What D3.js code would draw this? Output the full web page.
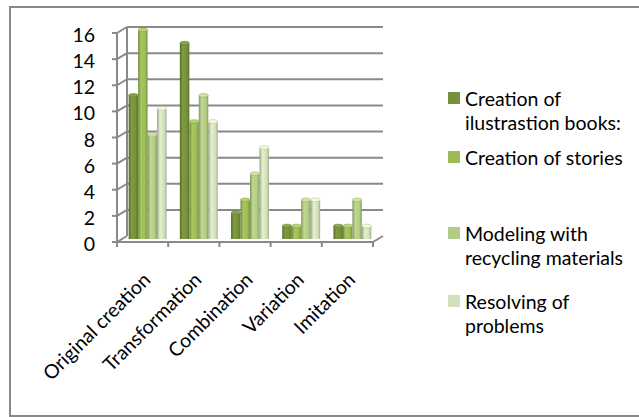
<!DOCTYPE html>
<html>
<head>
<meta charset="utf-8">
<script src="https://cdn.jsdelivr.net/npm/d3@7"></script>
<style>
    body{margin:0;background:#fff;}
    text{font-family:Lato, "Liberation Sans", sans-serif;fill:#000;}
</style>
</head>
<body>
<div id="chart"></div>
<script>
const categories = ["Original creation","Transformation","Combination","Variation","Imitation"];
const seriesNames = ["Creation of ilustrastion books:","Creation of stories","Modeling with recycling materials","Resolving of problems"];
const legendLines = [["Creation of","ilustrastion books:"],["Creation of stories"],["Modeling with","recycling materials"],["Resolving of","problems"]];
const booksValues = [11,15,2,1,1];
const storiesValues = [16,9,3,1,1];
const modelingValues = [8,11,5,3,3];
const problemsValues = [10,9,7,3,1];
const yTicks = [0,2,4,6,8,10,12,14,16];

const seriesValues = [booksValues, storiesValues, modelingValues, problemsValues];
const seriesColors = ["#76913b","#9bbb59","#b3cb86","#d3e0bd"];

const width = 639, height = 417;
const back = {x0:127, x1:383};
const depth = {dx:-10, dy:6};   // back wall -> front edge
const fontSize = 19.5;

const svg = d3.select("#chart").append("svg")
    .attr("width", width)
    .attr("height", height);

// outer frame
svg.append("rect")
    .attr("x",10).attr("y",7)
    .attr("width",640).attr("height",409)
    .attr("fill","#fff")
    .attr("stroke","#898989")
    .attr("stroke-width",2);

const y = d3.scaleLinear().domain([0,16]).range([236,27]);
// position shifted toward the front, d = 0 back wall, d = 1 front edge
const shiftX = d=>depth.dx*d;
const shiftY = d=>depth.dy*d;

const x0 = d3.scaleBand().domain(categories)
    .range([back.x0+shiftX(0.5), back.x1+shiftX(0.5)])
    .paddingInner(0.26).paddingOuter(0.13);
const x1 = d3.scaleBand().domain(d3.range(seriesNames.length))
    .range([0, x0.bandwidth()]);
const xFront = d3.scaleBand().domain(categories)
    .range([back.x0+shiftX(1), back.x1+shiftX(1)]);

const gridColor = "#898989";
const grid = svg.append("g").attr("stroke",gridColor).attr("stroke-width",2).attr("fill","none");

// back wall gridlines
grid.selectAll(".gridLine")
    .data(yTicks.filter(t=>t>0))
    .join("line")
    .attr("class","gridLine")
    .attr("x1",back.x0).attr("x2",back.x1)
    .attr("y1",t=>y(t)).attr("y2",t=>y(t));

// back wall vertical edge
grid.append("line")
    .attr("x1",back.x0).attr("x2",back.x0)
    .attr("y1",y(16)).attr("y2",y(0));

// side wall: diagonals and front axis
grid.selectAll(".sideLine")
    .data(yTicks)
    .join("line")
    .attr("class","sideLine")
    .attr("x1",back.x0).attr("y1",t=>y(t))
    .attr("x2",back.x0+shiftX(1)).attr("y2",t=>y(t)+shiftY(1));

grid.selectAll(".yTick")
    .data(yTicks)
    .join("line")
    .attr("class","yTick")
    .attr("x1",back.x0+shiftX(1)-5).attr("x2",back.x0+shiftX(1))
    .attr("y1",t=>y(t)+shiftY(1)).attr("y2",t=>y(t)+shiftY(1));

grid.append("line")
    .attr("x1",back.x0+shiftX(1)).attr("x2",back.x0+shiftX(1))
    .attr("y1",y(16)+shiftY(1)).attr("y2",y(0)+shiftY(1)+5);

// floor edges
grid.append("line")
    .attr("x1",back.x0+shiftX(1)).attr("x2",back.x1+shiftX(1))
    .attr("y1",y(0)+shiftY(1)).attr("y2",y(0)+shiftY(1));
grid.append("line")
    .attr("x1",back.x1+shiftX(1)).attr("y1",y(0)+shiftY(1))
    .attr("x2",back.x1).attr("y2",y(0));

grid.selectAll(".xTick")
    .data(categories.concat(["end"]))
    .join("line")
    .attr("class","xTick")
    .attr("x1",(c,i)=>xFront.range()[0]+i*xFront.step())
    .attr("x2",(c,i)=>xFront.range()[0]+i*xFront.step())
    .attr("y1",y(0)+shiftY(1)).attr("y2",y(0)+shiftY(1)+5);

// y labels
svg.selectAll(".yLabel")
    .data(yTicks)
    .join("text")
    .attr("class","yLabel")
    .attr("x",95)
    .attr("y",t=>y(t)+shiftY(1)+1.5)
    .attr("text-anchor","end")
    .attr("dominant-baseline","central")
    .style("font-size",fontSize+"px")
    .text(t=>t);

// category labels
svg.selectAll(".xLabel")
    .data(categories)
    .join("text")
    .attr("class","xLabel")
    .attr("text-anchor","end")
    .attr("transform",c=>"translate("+(xFront(c)+xFront.bandwidth()/2+9)+","+(y(0)+shiftY(1)+39)+") rotate(-45)")
    .style("font-size",fontSize+"px")
    .text(c=>c);

// gradients for column shading
const defs = svg.append("defs");
seriesColors.forEach((color,i)=>{
    const base = d3.color(color);
    const grad = defs.append("linearGradient")
        .attr("id","colGrad"+i)
        .attr("x1","0").attr("x2","1").attr("y1","0").attr("y2","0");
    grad.append("stop").attr("offset","0").attr("stop-color",base.darker(0.9));
    grad.append("stop").attr("offset","0.3").attr("stop-color",base.brighter(0.2));
    grad.append("stop").attr("offset","0.75").attr("stop-color",base);
    grad.append("stop").attr("offset","1").attr("stop-color",base.darker(0.7));
});

const barData = [];
categories.forEach((c,ci)=>{
    seriesValues.forEach((vals,si)=>{
        barData.push({category:c, series:si, value:vals[ci]});
    });
});

const yMid = v=>y(v)+shiftY(0.5);
const barG = svg.selectAll(".barG")
    .data(barData)
    .join("g")
    .attr("class","barG");

barG.append("rect")
    .attr("x",d=>x0(d.category)+x1(d.series))
    .attr("y",d=>yMid(d.value))
    .attr("width",x1.bandwidth())
    .attr("height",d=>yMid(0)-yMid(d.value))
    .attr("fill",d=>"url(#colGrad"+d.series+")");

barG.append("ellipse")
    .attr("cx",d=>x0(d.category)+x1(d.series)+x1.bandwidth()/2)
    .attr("cy",d=>yMid(d.value))
    .attr("rx",x1.bandwidth()/2)
    .attr("ry",1.8)
    .attr("fill",d=>d3.color(seriesColors[d.series]).brighter(0.4))
    .attr("stroke",d=>d3.color(seriesColors[d.series]).darker(0.4))
    .attr("stroke-width",0.6);

// legend
const legendY = [98,157,233,301];
const legend = svg.selectAll(".legendItem")
    .data(seriesNames)
    .join("g")
    .attr("class","legendItem")
    .attr("transform",(s,i)=>"translate(448,"+legendY[i]+")");

legend.append("rect")
    .attr("x",0).attr("y",-6)
    .attr("width",12).attr("height",12)
    .attr("fill",(s,i)=>seriesColors[i]);

legend.selectAll("text")
    .data((s,i)=>legendLines[i])
    .join("text")
    .attr("x",17)
    .attr("y",(line,j)=>j*24)
    .attr("dominant-baseline","central")
    .style("font-size",fontSize+"px")
    .text(line=>line);
</script>
</body>
</html>
